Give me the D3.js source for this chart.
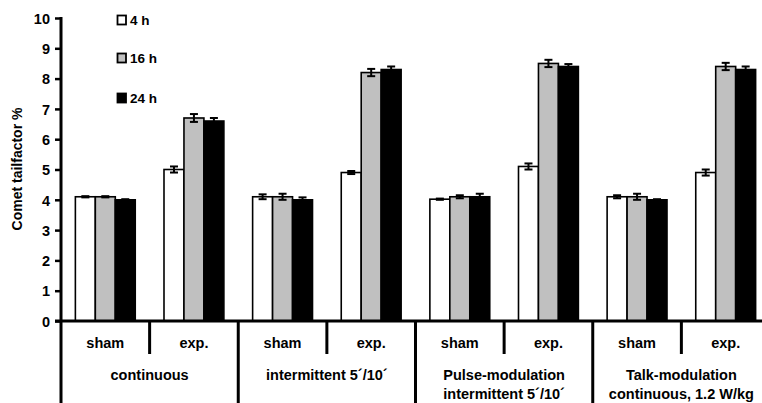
<!DOCTYPE html>
<html><head><meta charset="utf-8">
<script src="https://cdn.jsdelivr.net/npm/d3@7"></script>
<style>body{margin:0;background:#fff;} svg{display:block;} text{font-family:Arial,"Liberation Sans",sans-serif;font-weight:bold;fill:#000;}</style>
</head><body><svg id="c" width="762" height="403"></svg>
<script>
const groups = ["continuous", "intermittent 5´/10´", "Pulse-modulation|intermittent 5´/10´", "Talk-modulation|continuous, 1.2 W/kg"];
const conditions = ["sham", "exp."];
const series = ["4 h", "16 h", "24 h"];
const seriesColors = ["#ffffff", "#c0c0c0", "#000000"];
// values per subgroup (group x condition), order: 4 h, 16 h, 24 h
const values4h  = [4.1, 5.0, 4.1, 4.9, 4.02, 5.1, 4.1, 4.9];
const values16h = [4.1, 6.7, 4.1, 8.2, 4.1, 8.5, 4.1, 8.4];
const values24h = [4.0, 6.6, 4.0, 8.3, 4.1, 8.4, 4.0, 8.3];
const err4h  = [0.02, 0.1, 0.08, 0.05, 0.02, 0.1, 0.05, 0.1];
const err16h = [0.02, 0.13, 0.1, 0.12, 0.05, 0.12, 0.1, 0.12];
const err24h = [0.02, 0.1, 0.08, 0.1, 0.1, 0.08, 0.02, 0.1];
const yTicks = [0,1,2,3,4,5,6,7,8,9,10];

const svg = d3.select("#c");
const x0 = 61, x1 = 770, yTop = 18, yBot = 321;
const sub = [];
groups.forEach((g,gi)=>conditions.forEach((c,ci)=>sub.push({g:gi,c:ci,key:gi+"-"+ci,name:c})));
const xs = d3.scaleBand().domain(sub.map(d=>d.key)).range([x0,x1]).padding(0);
const xb = d3.scaleBand().domain(series).range([0,xs.bandwidth()]).paddingInner(0).paddingOuter(0.72);
const y = d3.scaleLinear().domain([0,10]).range([yBot,yTop]);
const vals = [values4h, values16h, values24h];
const errs = [err4h, err16h, err24h];

// bars
sub.forEach((s,i)=>{
  series.forEach((se,k)=>{
    const v = vals[k][i];
    svg.append("rect").attr("x", xs(s.key)+xb(se)).attr("y", y(v))
      .attr("width", xb.bandwidth()).attr("height", y(0)-y(v))
      .attr("fill", seriesColors[k]).attr("stroke","#000").attr("stroke-width",1.6);
  });
});
// error bars
sub.forEach((s,i)=>{
  series.forEach((se,k)=>{
    const v = vals[k][i], e = errs[k][i];
    const cx = xs(s.key)+xb(se)+xb.bandwidth()/2;
    const g = svg.append("g").attr("stroke","#000").attr("stroke-width",2);
    g.append("line").attr("x1",cx).attr("x2",cx).attr("y1",y(v+e)).attr("y2",y(v-e));
    g.append("line").attr("x1",cx-4).attr("x2",cx+4).attr("y1",y(v+e)).attr("y2",y(v+e));
    g.append("line").attr("x1",cx-4).attr("x2",cx+4).attr("y1",y(v-e)).attr("y2",y(v-e));
  });
});

// y axis
const ya = d3.axisLeft(y).tickValues(yTicks).tickSize(6).tickFormat(d3.format("d"));
const yg = svg.append("g").attr("transform",`translate(${x0},0)`).call(ya);
yg.select(".domain").remove();
yg.selectAll(".tick line").attr("stroke","#000").attr("stroke-width",2.5);
yg.selectAll(".tick text").attr("font-size",14.5).attr("x",-11).attr("dy","0.36em")
  .style("font-family",'Arial,"Liberation Sans",sans-serif').style("font-weight","bold");
svg.append("line").attr("x1",x0).attr("x2",x0).attr("y1",yTop-1).attr("y2",403).attr("stroke","#000").attr("stroke-width",3);
// x axis line
svg.append("line").attr("x1",x0-6).attr("x2",x1).attr("y1",yBot).attr("y2",yBot).attr("stroke","#000").attr("stroke-width",3);

// separators
sub.forEach((s,i)=>{
  if(i===0) return;
  const xx = xs(s.key);
  const major = s.c===0;
  svg.append("line").attr("x1",xx).attr("x2",xx).attr("y1",yBot).attr("y2", major?403:354)
    .attr("stroke","#000").attr("stroke-width",3);
});
// condition labels
sub.forEach(s=>{
  svg.append("text").attr("x", xs(s.key)+xs.bandwidth()/2).attr("y",348)
    .attr("text-anchor","middle").attr("font-size",14.5).text(s.name);
});
// group labels
groups.forEach((g,gi)=>{
  const cx = xs(gi+"-0") + xs.bandwidth();
  const lines = g.split("|");
  lines.forEach((l,li)=>{
    svg.append("text").attr("x",cx).attr("y",380+li*19).attr("text-anchor","middle").attr("font-size",14.5).text(l);
  });
});

// y label
svg.append("text").attr("transform","translate(22,169) rotate(-90)").attr("text-anchor","middle").attr("font-size",14).text("Comet tailfactor %");

// legend
const legY = [15, 53, 93];
series.forEach((se,k)=>{
  svg.append("rect").attr("x",117.5).attr("y",legY[k]+0.5).attr("width",8.5).attr("height",9)
    .attr("fill",seriesColors[k]).attr("stroke","#000").attr("stroke-width",1.8);
  svg.append("text").attr("x",130).attr("y",legY[k]+10).attr("font-size",13.5).text(se);
});
</script></body></html>
